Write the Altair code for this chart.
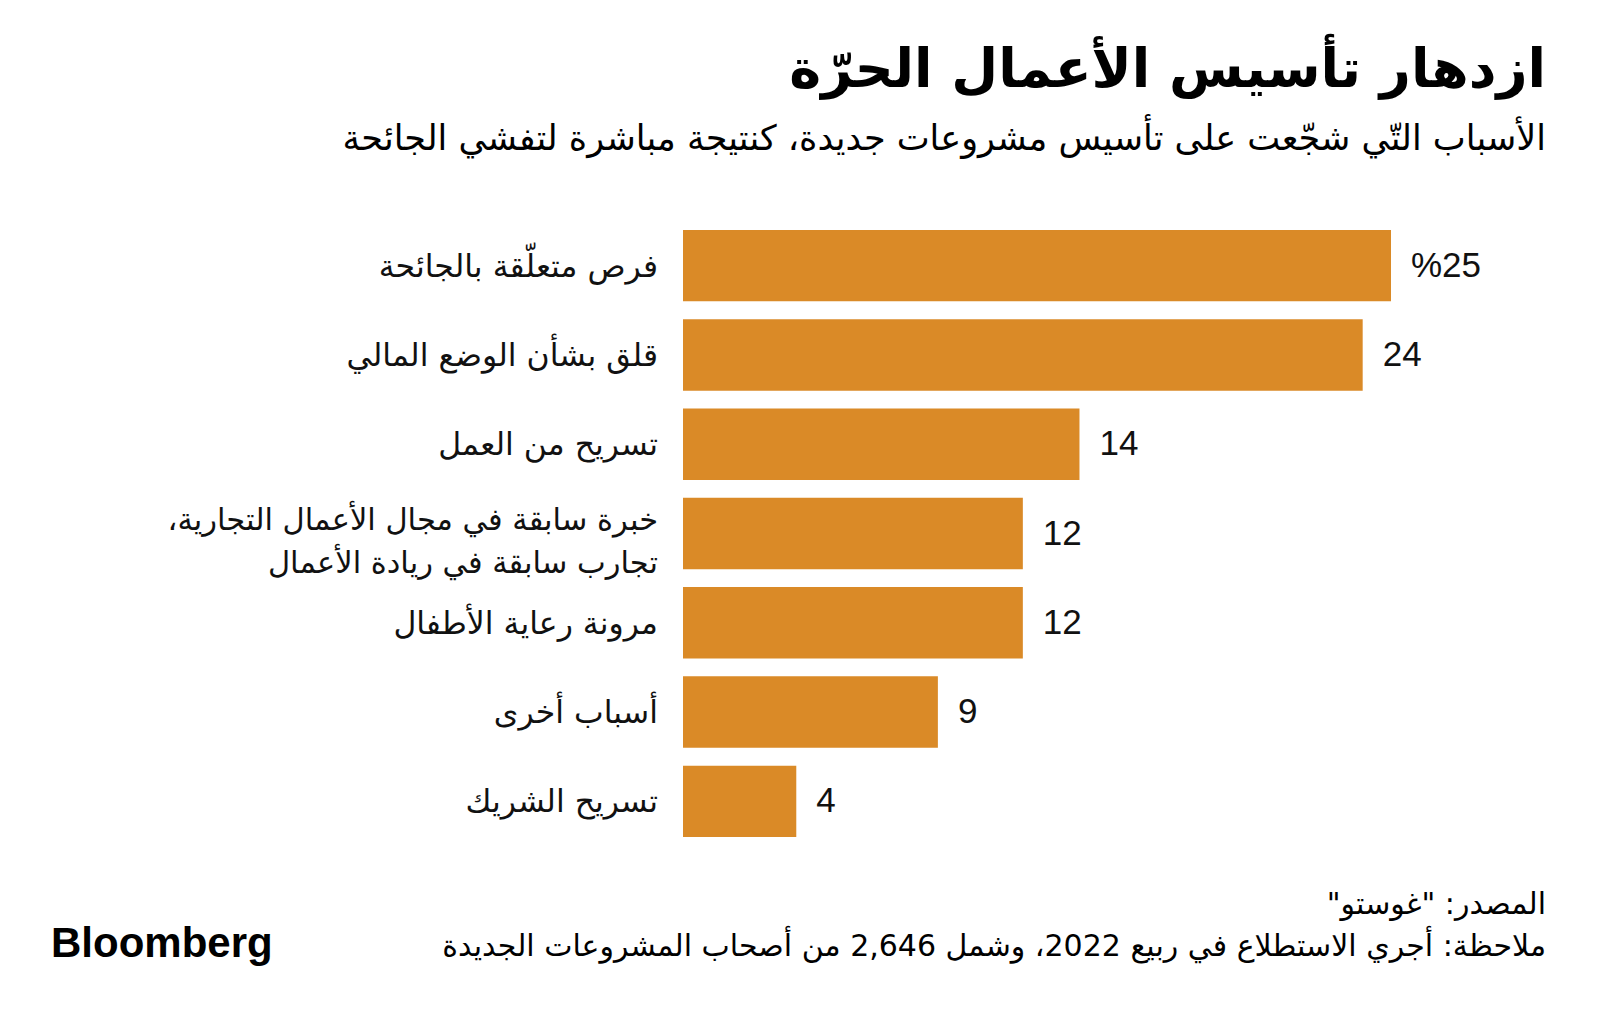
import altair as alt
import pandas as pd

categories = [
    "فرص متعلّقة بالجائحة",
    "قلق بشأن الوضع المالي",
    "تسريح من العمل",
    "خبرة سابقة في مجال الأعمال التجارية،\nتجارب سابقة في ريادة الأعمال",
    "مرونة رعاية الأطفال",
    "أسباب أخرى",
    "تسريح الشريك",
]
values = [25, 24, 14, 12, 12, 9, 4]
value_labels = ["%25", "24", "14", "12", "12", "9", "4"]

title_text = "ازدهار تأسيس الأعمال الحرّة"
subtitle_text = "الأسباب التّي شجّعت على تأسيس مشروعات جديدة، كنتيجة مباشرة لتفشي الجائحة"
source_text = 'المصدر: "غوستو"'
note_text = "ملاحظة: أجري الاستطلاع في ربيع 2022، وشمل 2,646 من أصحاب المشروعات الجديدة"
logo_text = "Bloomberg"

RLE, PDF = "\u202b", "\u202c"


def rtl(s):
    return "\n".join(RLE + line + PDF for line in s.split("\n"))


df = pd.DataFrame({
    "key": categories,
    "label": [rtl(c) for c in categories],
    "lines": [c.count("\n") + 1 for c in categories],
    "value": values,
    "vlabel": value_labels,
})

BAR = "#DA8A27"
AR_FONT = "DejaVu Sans"

y = alt.Y("key:N", sort=categories, axis=None,
          scale=alt.Scale(paddingInner=0.2, paddingOuter=0.1))
x = alt.X("value:Q", axis=None, scale=alt.Scale(domain=[0, 25], nice=False))

bars = alt.Chart(df).mark_bar(color=BAR).encode(x=x, y=y)

vals = alt.Chart(df).mark_text(
    align="left", baseline="middle", dx=20, font="Liberation Sans",
    fontSize=35, color="#111111"
).encode(x=x, y=y, text="vlabel:N")

cats1 = alt.Chart(df).transform_filter("datum.lines == 1").mark_text(
    align="right", baseline="middle", font=AR_FONT, fontSize=31.5, dy=2,
    color="#111111"
).encode(x=alt.value(-25), y=y, text="label:N")

cats2 = alt.Chart(df).transform_filter("datum.lines > 1").mark_text(
    align="right", baseline="middle", font=AR_FONT, fontSize=30.5,
    lineBreak="\n", lineHeight=43, dy=-13, color="#111111"
).encode(x=alt.value(-25), y=y, text="label:N")


def note(text, xv, yv, size, align="right", weight="normal", font=AR_FONT):
    d = pd.DataFrame({"t": [text]})
    return alt.Chart(d).mark_text(
        align=align, baseline="middle", font=font, fontSize=size,
        fontWeight=weight, color="#000000"
    ).encode(x=alt.value(xv), y=alt.value(yv), text="t:N")


title = note(rtl(title_text), 863, -150, 54, weight="bold")
subtitle = note(rtl(subtitle_text), 863, -82, 35)
source = note(rtl(source_text), 863, 684, 30)
foot = note(rtl(note_text), 863, 726, 30)
logo = note(logo_text, -632, 723, 42, align="left", weight=900, font="Liberation Sans")

chart = alt.layer(bars, vals, cats1, cats2, title, subtitle, source, foot, logo).properties(
    width=708,
    height=625,
    padding={"left": 675, "top": 213, "right": 195, "bottom": 160},
    autosize=alt.AutoSizeParams(type="none"),
    background="white",
).configure_view(stroke=None)

chart.save("out.html", embed_options={"renderer": "svg", "actions": False})
